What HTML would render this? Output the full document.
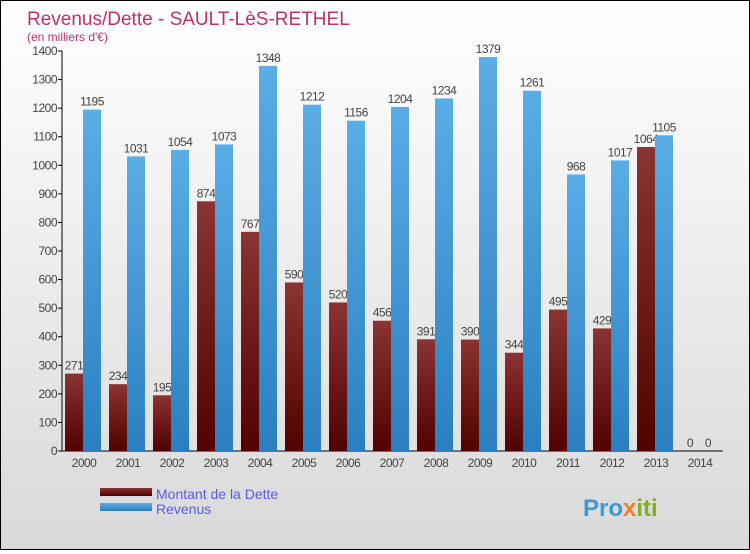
<!DOCTYPE html>
<html><head><meta charset="utf-8"><style>
body{margin:0;width:750px;height:550px;overflow:hidden;font-family:"Liberation Sans",sans-serif;}
#c{position:relative;width:748px;height:548px;border:1px solid #000;background:linear-gradient(#ffffff,#d9d9d9);}
</style></head><body>
<div id="c">
<svg id="s" width="748" height="548" xmlns="http://www.w3.org/2000/svg">
<defs>
<linearGradient id="gd" x1="0" y1="0" x2="0" y2="1"><stop offset="0" stop-color="#8a3434"/><stop offset="1" stop-color="#520000"/></linearGradient>
<linearGradient id="gr" x1="0" y1="0" x2="0" y2="1"><stop offset="0" stop-color="#5aaee6"/><stop offset="1" stop-color="#2a7fc0"/></linearGradient>
</defs>
<text x="26" y="24" font-size="19" fill="#c0306a">Revenus/Dette - SAULT-LèS-RETHEL</text>
<text x="26" y="40" font-size="12" fill="#c0306a">(en milliers d'€)</text>
<g id="plot"></g>
<rect x="99" y="487" width="52" height="8" fill="url(#gd)"/>
<rect x="99" y="502" width="52" height="8" fill="url(#gr)"/>
<text x="155" y="498" font-size="14" fill="#5a5ae6">Montant de la Dette</text>
<text x="155" y="513" font-size="14" fill="#5a5ae6">Revenus</text>
<text x="582" y="515" font-size="24" font-weight="bold" fill="#3a9ad8">Pro<tspan fill="#f08020">x</tspan><tspan fill="#80b020">iti</tspan></text>
</svg></div>
<script>
const years=["2000","2001","2002","2003","2004","2005","2006","2007","2008","2009","2010","2011","2012","2013","2014"];
const dette=[271,234,195,874,767,590,520,456,391,390,344,495,429,1064,0];
const revenus=[1195,1031,1054,1073,1348,1212,1156,1204,1234,1379,1261,968,1017,1105,0];
const yTicks=[0,100,200,300,400,500,600,700,800,900,1000,1100,1200,1300,1400];
const NS="http://www.w3.org/2000/svg";
const g=document.getElementById('plot');
const y=v=>450-v*400/1400;
const x0=i=>64+44*i;
function mk(t,a,txt){const e=document.createElementNS(NS,t);for(const k in a)e.setAttribute(k,a[k]);if(txt!==undefined)e.textContent=txt;g.appendChild(e);return e;}
yTicks.forEach(v=>{
 const l=mk('line',{x1:57,x2:61,y1:y(v),y2:y(v),stroke:'#000'});
 
 
 const t=mk('text',{x:56,y:y(v)+4,'font-size':12,'text-anchor':'end',fill:'#444','letter-spacing':'-0.5'},v);
 
 
});
const ax=mk('line',{x1:61,x2:61,y1:50,y2:450,stroke:'#000'});


const bx=mk('line',{x1:61,x2:722,y1:450,y2:450,stroke:'#000'});


years.forEach((yr,i)=>{
 const r=mk('rect',{x:x0(i),y:y(dette[i]),width:18,height:450-y(dette[i]),fill:'url(#gd)'});
 
 
 const t=mk('text',{x:x0(i)+9,y:y(dette[i])-4,'font-size':12,'text-anchor':'middle',fill:'#444','letter-spacing':'-0.5'},dette[i]);
 
 
});
years.forEach((yr,i)=>{
 const r=mk('rect',{x:x0(i)+18,y:y(revenus[i]),width:18,height:450-y(revenus[i]),fill:'url(#gr)'});
 
 
 const t=mk('text',{x:x0(i)+27,y:y(revenus[i])-4,'font-size':12,'text-anchor':'middle',fill:'#444','letter-spacing':'-0.5'},revenus[i]);
 
 
 const xl=mk('text',{x:x0(i)+19,y:466,'font-size':12,'text-anchor':'middle',fill:'#444','letter-spacing':'-0.5'},yr);
 
 
});
</script>
</body></html>
